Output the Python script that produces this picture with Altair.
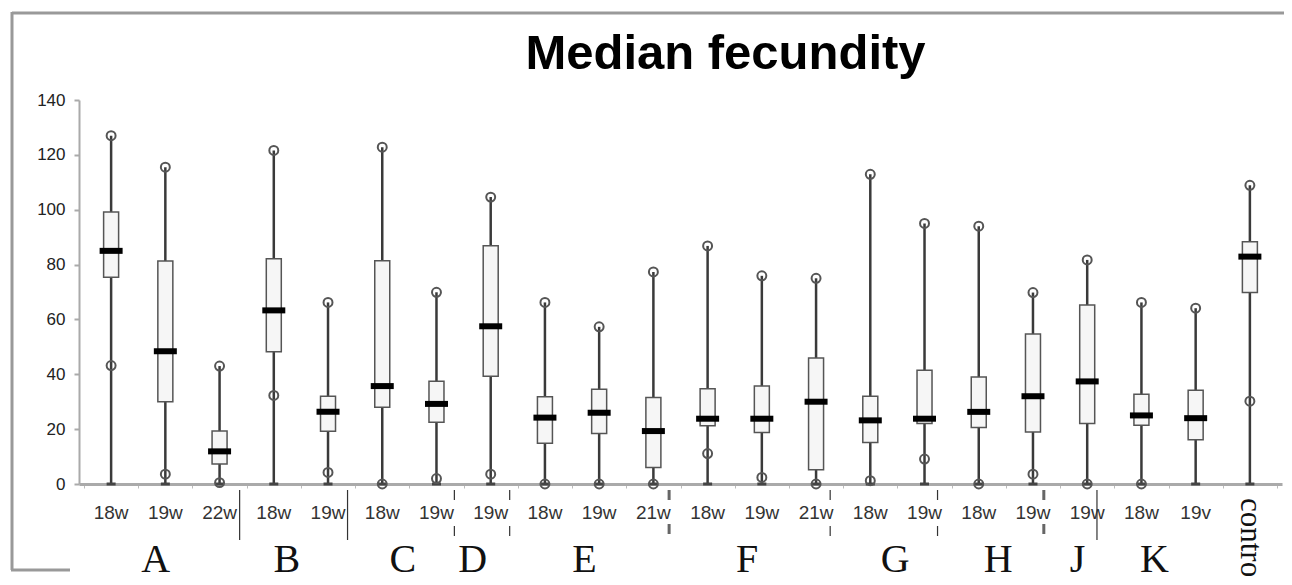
import altair as alt
import pandas as pd

# ---------------- data ----------------
tick_labels = ["18w", "19w", "22w", "18w", "19w", "18w", "19w", "19w", "18w", "19w", "21w",
               "18w", "19w", "21w", "18w", "19w", "18w", "19w", "19w", "18w", "19v", "control"]
group_letters = ["A", "B", "C", "D", "E", "F", "G", "H", "J", "K"]
chart_title = "Median fecundity"

q1 = [75.4, 30.0, 7.3, 48.2, 19.2, 28.0, 22.5, 39.3, 14.9, 18.4, 6.0,
      21.2, 18.8, 5.2, 15.1, 22.1, 20.6, 19.0, 22.1, 21.4, 16.1, 69.8]
median = [85.0, 48.4, 11.9, 63.3, 26.3, 35.7, 29.2, 57.5, 24.2, 26.0, 19.3,
          23.8, 23.8, 30.0, 23.2, 23.8, 26.3, 32.0, 37.4, 25.0, 24.0, 82.9]
q3 = [99.2, 81.3, 19.3, 82.1, 32.0, 81.4, 37.5, 86.9, 31.8, 34.5, 31.5,
      34.7, 35.7, 45.9, 32.0, 41.5, 39.0, 54.7, 65.3, 32.7, 34.2, 88.3]
top_point = [127.0, 115.5, 43.0, 121.6, 66.2, 122.8, 69.9, 104.6, 66.2, 57.3, 77.3,
             86.8, 75.9, 75.0, 112.9, 95.0, 94.0, 69.8, 81.7, 66.2, 64.1, 108.9]
low_point = [43.2, 3.6, 0.5, 32.3, 4.2, 0.0, 2.0, 3.6, 0.0, 0.0, 0.0,
             11.1, 2.4, 0.0, 1.2, 9.1, 0.0, 3.6, 0.0, 0.0, None, 30.2]
whisker_low = [0.0] * 22

# ---------------- layout (not data) ----------------
W, H = 1203, 384
letter_pos = [1.32, 3.74, 5.88, 7.17, 9.23, 12.23, 14.96, 16.86, 18.32, 19.74]
sep_pos = [2.87, 4.86, 6.83, 7.85, 10.79, 13.76, 15.74, 17.70, 18.68]
sep_style = ["solid", "solid", "thin", "thin", "thick", "thin", "thin", "thick", "solid"]

n = len(tick_labels)
df = pd.DataFrame({
    "pos": [i + 0.5 for i in range(n)],
    "label": tick_labels,
    "q1": q1, "median": median, "q3": q3,
    "top": top_point, "low": low_point, "zero": whisker_low,
})
df_lab = df.iloc[:-1]
df_ctrl = df.iloc[-1:]
df_low = df.dropna(subset=["low"])
df_let = pd.DataFrame({"lx": letter_pos, "letter": group_letters})
df_sep = pd.DataFrame({"sx": sep_pos, "style": sep_style})

xs = alt.Scale(domain=[0, n], nice=False, zero=False)
ys = alt.Scale(domain=[0, 140], nice=False)
x_axis = alt.Axis(values=list(range(n + 1)), labels=False, title=None, tickSize=4,
                  tickColor="#bbbbbb", tickWidth=1, domainColor="#aaaaaa", domainWidth=3,
                  grid=False)
y_axis = alt.Axis(values=list(range(0, 141, 20)), title=None, tickSize=5, tickColor="#aaaaaa",
                  tickWidth=2, domainColor="#aaaaaa", domainWidth=2, labelFontSize=17,
                  labelFont="Liberation Sans", labelColor="#222222", labelPadding=9, grid=False)


def X(f):
    return alt.X(f"{f}:Q", scale=xs, axis=x_axis)


def Y(f):
    return alt.Y(f"{f}:Q", scale=ys, axis=y_axis)


base = alt.Chart(df)

whisk = base.mark_rule(color="#3a3a3a", strokeWidth=2.5).encode(
    x=X("pos"), y=Y("zero"), y2="top:Q")
cap = base.mark_tick(orient="horizontal", size=9, thickness=3, color="#444444",
                     opacity=1).encode(x=X("pos"), y=Y("zero"))
box = base.mark_bar(size=15, fill="#f6f6f6", stroke="#555555", strokeWidth=1.5,
                    opacity=1).encode(x=X("pos"), y=Y("q1"), y2="q3:Q")
med = base.mark_tick(orient="horizontal", size=23, thickness=6, color="black",
                     opacity=1).encode(x=X("pos"), y=Y("median"))
top_c = base.mark_point(shape="circle", filled=False, size=80, strokeWidth=2,
                        color="#555555", opacity=1).encode(x=X("pos"), y=Y("top"))
low_c = alt.Chart(df_low).mark_point(shape="circle", filled=False, size=80, strokeWidth=2,
                                     color="#555555", opacity=1).encode(x=X("pos"), y=Y("low"))

labels = alt.Chart(df_lab).mark_text(font="Liberation Sans", fontSize=19, color="#333333",
                                     baseline="middle", align="center").encode(
    x=X("pos"), y=alt.value(H + 29), text="label:N")
ctrl = alt.Chart(df_ctrl).mark_text(font="Liberation Serif", fontSize=31, color="#111111",
                                    angle=90, align="left", baseline="middle").encode(
    x=X("pos"), y=alt.value(H + 14), text="label:N")
letters = alt.Chart(df_let).mark_text(font="Liberation Serif", fontSize=40, color="#111111",
                                      baseline="alphabetic", align="center").encode(
    x=X("lx"), y=alt.value(H + 88), text="letter:N")

sep_solid = alt.Chart(df_sep).transform_filter("datum.style == 'solid'").mark_rule(
    color="#333333", strokeWidth=1.2).encode(x=X("sx"), y=alt.value(H + 6), y2=alt.value(H + 56))
sep_thin = alt.Chart(df_sep).transform_filter("datum.style == 'thin'").mark_rule(
    color="#333333", strokeWidth=1.2, strokeDash=[10, 26]).encode(
    x=X("sx"), y=alt.value(H + 6), y2=alt.value(H + 52))
sep_thick = alt.Chart(df_sep).transform_filter("datum.style == 'thick'").mark_rule(
    color="#666666", strokeWidth=3, strokeDash=[10, 24]).encode(
    x=X("sx"), y=alt.value(H + 6), y2=alt.value(H + 56))

one = alt.Data(values=[{"t": chart_title}])
title_mark = alt.Chart(one).mark_text(font="Liberation Sans", fontSize=49, fontWeight="bold",
                                      color="black", align="center", baseline="alphabetic").encode(
    x=alt.value(W / 2 + 45), y=alt.value(-31), text="t:N")

# decorative frame around the picture
frame_top = alt.Chart(one).mark_rule(color="#999999", strokeWidth=3).encode(
    x=alt.value(-67), x2=alt.value(1215), y=alt.value(-87))
frame_left = alt.Chart(one).mark_rule(color="#999999", strokeWidth=3).encode(
    x=alt.value(-67), y=alt.value(-88), y2=alt.value(470))
frame_bot = alt.Chart(one).mark_rule(color="#999999", strokeWidth=3).encode(
    x=alt.value(-68), x2=alt.value(-9), y=alt.value(470))

chart = alt.layer(
    frame_top, frame_left, frame_bot, title_mark,
    whisk, cap, box, med, top_c, low_c,
    labels, ctrl, letters, sep_solid, sep_thin, sep_thick,
).properties(
    width=W, height=H,
    autosize=alt.AutoSizeParams(type="none"),
    padding={"left": 71, "top": 92, "right": 2, "bottom": 93},
    background="white",
).configure_view(stroke=None)

chart.save("out.html", embed_options={"renderer": "svg", "actions": False})
